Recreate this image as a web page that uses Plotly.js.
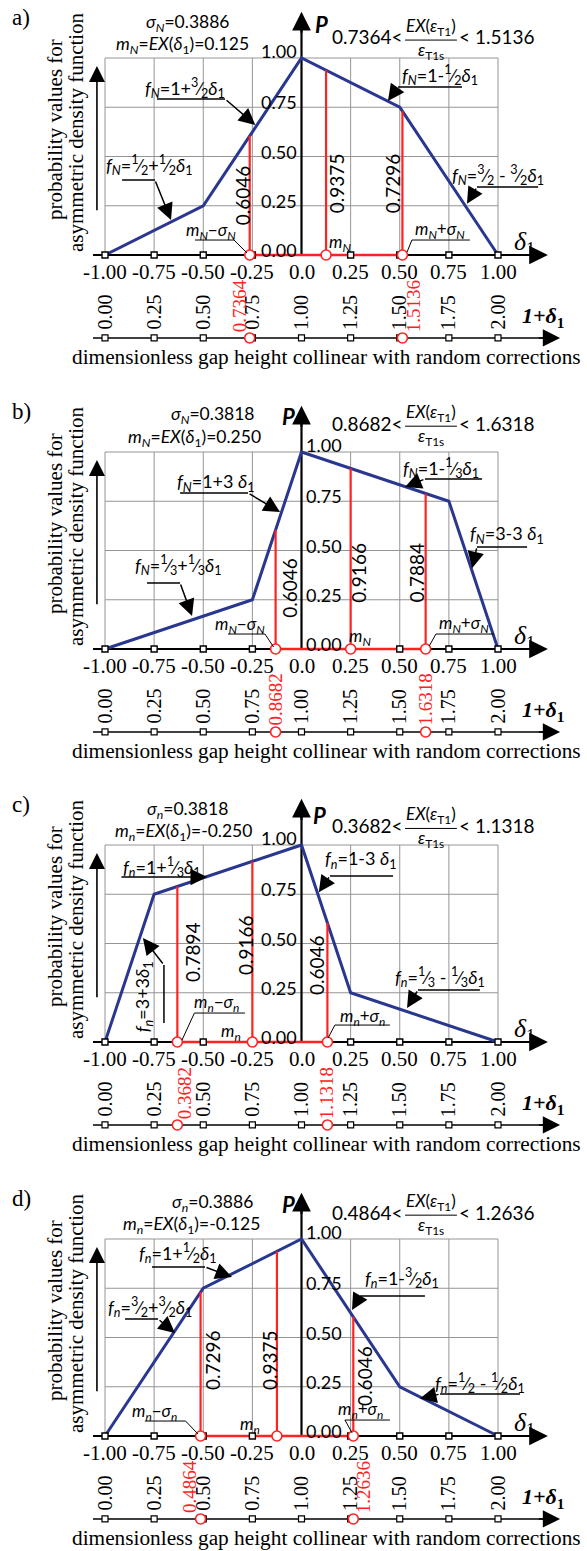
<!DOCTYPE html>
<html><head><meta charset="utf-8">
<script src="https://cdn.plot.ly/plotly-3.0.1.min.js"></script>
<style>html,body{margin:0;padding:0;background:#fff}#chart{width:587px;height:1551px}</style>
</head><body><div id="chart"></div>
<script>
// ---------------- DATA ----------------
const xTicks = [-1, -0.75, -0.5, -0.25, 0, 0.25, 0.5, 0.75, 1];
const xTickLabels = ['-1.00','-0.75','-0.50','-0.25','0.0','0.25','0.50','0.75','1.00'];
const secTickLabels = ['0.00','0.25','0.50','0.75','1.00','1.25','1.50','1.75','2.00'];
const yTicks = [0, 0.25, 0.5, 0.75, 1];
const yTickLabels = ['0.00','0.25','0.50','0.75','1.00'];
const panelNames = ['a)','b)','c)','d)'];

const densX_a = [-1, -0.5, 0, 0.5, 1];   const densP_a = [0, 0.25, 1, 0.75, 0];
const densX_b = [-1, -0.25, 0, 0.75, 1]; const densP_b = [0, 0.25, 1, 0.75, 0];
const densX_c = [-1, -0.75, 0, 0.25, 1]; const densP_c = [0, 0.75, 1, 0.25, 0];
const densX_d = [-1, -0.5, 0, 0.5, 1];   const densP_d = [0, 0.75, 1, 0.25, 0];

// positions m-sigma, m, m+sigma and density heights there
const redX_a = [-0.2636, 0.125, 0.5136];  const redP_a = [0.6046, 0.9375, 0.7296];
const redX_b = [-0.1318, 0.25, 0.6318];   const redP_b = [0.6046, 0.9166, 0.7884];
const redX_c = [-0.6318, -0.25, 0.1318];  const redP_c = [0.7894, 0.9166, 0.6046];
const redX_d = [-0.5136, -0.125, 0.2636]; const redP_d = [0.7296, 0.9375, 0.6046];

const sigmaLabels = ['0.3886','0.3818','0.3818','0.3886'];
const meanLabels = ['0.125','0.250','-0.250','-0.125'];
const boundLo = ['0.7364','0.8682','0.3682','0.4864'];
const boundHi = ['1.5136','1.6318','1.1318','1.2636'];
const subLetters = ['N','N','n','n'];

const d1 = '<i>δ</i><sub>1</sub>';
function fr(n, d) { return '<sup>' + n + '</sup>⁄<sub>' + d + '</sub>'; }
function fS(s) { return '<i>f<sub>' + s + '</sub></i>'; }
const formulas_a = [fS('N')+'=1+'+fr(3,2)+d1, fS('N')+'='+fr(1,2)+'+'+fr(1,2)+d1, fS('N')+'=1-'+fr(1,2)+d1, fS('N')+'='+fr(3,2)+' - '+fr(3,2)+d1];
const formulas_b = [fS('N')+'=1+3 '+d1, fS('N')+'='+fr(1,3)+'+'+fr(1,3)+d1, fS('N')+'=1-'+fr(1,3)+d1, fS('N')+'=3-3 '+d1];
const formulas_c = [fS('n')+'=1+'+fr(1,3)+d1, fS('n')+'=3+3'+d1, fS('n')+'=1-3 '+d1, fS('n')+'='+fr(1,3)+' - '+fr(1,3)+d1];
const formulas_d = [fS('n')+'=1+'+fr(1,2)+d1, fS('n')+'='+fr(3,2)+'+'+fr(3,2)+d1, fS('n')+'=1-'+fr(3,2)+d1, fS('n')+'='+fr(1,2)+' - '+fr(1,2)+d1];

const densX = [densX_a, densX_b, densX_c, densX_d];
const densP = [densP_a, densP_b, densP_c, densP_d];
const redX = [redX_a, redX_b, redX_c, redX_d];
const redP = [redP_a, redP_b, redP_c, redP_d];
const formulas = [formulas_a, formulas_b, formulas_c, formulas_d];

// ---------------- LAYOUT CONFIG (positions in data units) ----------------
const W = 587, H = 1551, S = 197;
const AX0 = [255, 649, 1042, 1436];
const XR = [(0 - 301.5) / 196.5, (W - 301.5) / 196.5];
const SEC = -0.421;
const SANS = 'Lato, "Liberation Sans", Arial, sans-serif';
const SERIF = '"Liberation Serif", "Times New Roman", serif';
const BLUE = '#29378f', RED = '#ff2222';

const cfg = [
  { side:'left', sigma:[-0.578,1.178], mean:[-0.608,1.066], P:[0.104,1.168], fracY:1.107,
    val:[[-0.296,0.305],[0.176,0.365],[0.461,0.365]],
    mLo:{t:[-0.461,0.122], ul:[-0.542,-0.3435,0.076], ld:[-0.3435,0.076,-0.277,0.010]},
    mMid:[0.196,0.061],
    mHi:{t:[0.705,0.127], ul:[0.562,0.857,0.076], ld:[0.562,0.076,0.537,0.015]},
    secShift:[-10,12],
    co:[ {t:[-0.593,0.848], ul:[-0.735,-0.389,0.792], ar:[-0.389,0.792,-0.235,0.66]},
         {t:[-0.776,0.457], ul:[-0.913,-0.746,0.381], ar:[-0.746,0.381,-0.664,0.178]},
         {t:[0.705,0.914], ul:[0.491,0.817,0.853], ar:[0.491,0.853,0.44,0.782]},
         {t:[1.0,0.406], ul:[0.893,1.204,0.345], ar:[0.893,0.345,0.842,0.26]} ] },
  { side:'right', sigma:[-0.455,1.188], mean:[-0.547,1.071], P:[-0.068,1.178], fracY:1.147,
    val:[[-0.059,0.31],[0.29,0.39],[0.585,0.39]],
    mLo:{t:[-0.313,0.122], ul:[-0.374,-0.186,0.076], ld:[-0.186,0.076,-0.142,0.01]},
    mMid:[0.30,0.061],
    mHi:{t:[0.828,0.127], ul:[0.684,0.98,0.076], ld:[0.684,0.076,0.650,0.015]},
    secShift:[0,0],
    co:[ {t:[-0.435,0.843], ul:[-0.618,-0.272,0.792], ar:[-0.272,0.792,-0.109,0.695]},
         {t:[-0.628,0.426], ul:[-0.786,-0.618,0.335], ar:[-0.618,0.335,-0.557,0.168]},
         {t:[0.710,0.919], ul:[0.628,0.919,0.863], ar:[0.628,0.863,0.527,0.822]},
         {t:[1.046,0.579], ul:[0.893,1.148,0.518], ar:[0.893,0.518,0.868,0.41]} ] },
  { side:'left', sigma:[-0.578,1.178], mean:[-0.603,1.066], P:[0.094,1.152], fracY:1.10,
    val:[[-0.552,0.457],[-0.288,0.492],[0.079,0.391]],
    mLo:{t:[-0.435,0.198], ul:[-0.545,-0.288,0.147], ld:[-0.545,0.147,-0.608,0.01]},
    mMid:[-0.359,0.051],
    mHi:{t:[0.308,0.127], ul:[0.170,0.450,0.086], ld:[0.170,0.086,0.135,0.02]},
    secShift:[8,0],
    co:[ {t:[-0.710,0.888], ul:null, ar:[-0.924,0.838,-0.481,0.838]},
         {t:[-0.806,0.228], rot:true, vl:[-0.700,0.096,0.391], ar:[-0.700,0.391,-0.807,0.528]},
         {t:[0.303,0.924], ul:[0.145,0.466,0.843], ar:[0.145,0.843,0.088,0.76]},
         {t:[0.705,0.330], ul:[0.593,0.908,0.264], ar:[0.593,0.264,0.537,0.173]} ] },
  { side:'right', sigma:[-0.455,1.183], mean:[-0.562,1.071], P:[-0.068,1.173], fracY:1.137,
    val:[[-0.450,0.386],[-0.160,0.386],[0.323,0.305]],
    mLo:{t:[-0.746,0.122], ul:[-0.797,-0.590,0.076], ld:[-0.590,0.076,-0.527,0.01]},
    mMid:[-0.262,0.056],
    mHi:{t:[0.298,0.132], ul:[0.221,0.450,0.081], ld:[0.221,0.081,0.258,0.015]},
    secShift:[-11,11],
    co:[ {t:[-0.629,0.929], ul:[-0.761,-0.491,0.858], ar:[-0.491,0.858,-0.354,0.807]},
         {t:[-0.771,0.655], ul:[-0.898,-0.730,0.594], ar:[-0.730,0.594,-0.644,0.523]},
         {t:[0.511,0.802], ul:[0.298,0.628,0.711], ar:[0.298,0.711,0.257,0.640]},
         {t:[0.908,0.269], ul:[0.705,1.112,0.213], ar:[0.705,0.213,0.603,0.19]} ] }
];

// ---------------- BUILD ----------------
const traces = [], shapes = [], annotations = [];
const layout = { width: W, height: H, margin: {l:0, r:0, t:0, b:0}, showlegend: false,
  paper_bgcolor: '#fff', plot_bgcolor: 'rgba(0,0,0,0)', shapes: shapes, annotations: annotations };

function txt(xa, ya, x, y, text, font, extra) {
  annotations.push(Object.assign({xref: xa, yref: ya, x: x, y: y, text: text, showarrow: false,
    font: font, xanchor: 'center', yanchor: 'middle'}, extra || {}));
}
function arrow(xa, ya, x0, y0, x1, y1, w, size) {
  annotations.push({xref: xa, yref: ya, axref: xa, ayref: ya, x: x1, y: y1, ax: x0, ay: y0, text: '',
    showarrow: true, arrowhead: 2, arrowsize: size, arrowwidth: w, arrowcolor: '#000', standoff: 0});
}
function seg(xa, ya, x0, y0, x1, y1, color, w, layer) {
  shapes.push({type: 'line', xref: xa, yref: ya, x0: x0, y0: y0, x1: x1, y1: y1,
    line: {color: color, width: w}, layer: layer || 'above'});
}

for (let k = 0; k < 4; k++) {
  const sfx = k === 0 ? '' : String(k + 1);
  const xa = 'x' + sfx, ya = 'y' + sfx;
  const top = AX0[k] - 255, bot = Math.min(AX0[k] + 138, H);
  layout['xaxis' + sfx] = {domain: [0, 1], range: XR, visible: false, anchor: ya, fixedrange: true};
  layout['yaxis' + sfx] = {domain: [1 - bot / H, 1 - top / H], range: [(AX0[k] - bot) / S, (AX0[k] - top) / S],
    visible: false, anchor: xa, fixedrange: true};
  const c = cfg[k], s = subLetters[k];

  // grid
  xTicks.forEach(v => seg(xa, ya, v, 0, v, 1, '#959595', 1, 'below'));
  yTicks.forEach(v => seg(xa, ya, -1, v, 1, v, '#959595', 1, 'below'));
  // axes lines
  seg(xa, ya, -1.061, 0, 1.2, 0, '#000', 2.2, 'below');
  seg(xa, ya, 0, 0, 0, 1.16, '#000', 2.2, 'below');
  seg(xa, ya, -1.061, SEC, 1.26, SEC, '#000', 1.5, 'below');
  arrow(xa, ya, 1.15, 0, 1.254, 0, 2.2, 1.7);
  arrow(xa, ya, 0, 1.12, 0, 1.235, 2.2, 1.7);
  arrow(xa, ya, 1.2, SEC, 1.316, SEC, 1.5, 2.3);
  arrow(xa, ya, -1.041, 0.22, -1.041, 0.96, 1.6, 2.0);

  // density polyline
  traces.push({type: 'scatter', mode: 'lines', x: densX[k], y: densP[k], xaxis: xa, yaxis: ya,
    line: {color: BLUE, width: 3}, hoverinfo: 'skip'});
  // red verticals
  const rx = [], ry = [];
  redX[k].forEach((v, i) => { rx.push(v, v, null); ry.push(0, redP[k][i], null); });
  traces.push({type: 'scatter', mode: 'lines', x: rx, y: ry, xaxis: xa, yaxis: ya,
    line: {color: RED, width: 2.2}, hoverinfo: 'skip'});
  traces.push({type: 'scatter', mode: 'lines', x: [redX[k][0], redX[k][2]], y: [0, 0], xaxis: xa, yaxis: ya,
    line: {color: RED, width: 2.6}, hoverinfo: 'skip'});
  // tick squares
  const mainT = xTicks.filter(v => v !== 0);
  traces.push({type: 'scatter', mode: 'markers', x: mainT, y: mainT.map(() => 0), xaxis: xa, yaxis: ya,
    marker: {symbol: 'square', size: 6, color: '#fff', line: {color: '#000', width: 1.4}}, hoverinfo: 'skip'});
  traces.push({type: 'scatter', mode: 'markers', x: xTicks, y: xTicks.map(() => SEC), xaxis: xa, yaxis: ya,
    marker: {symbol: 'square', size: 6, color: '#fff', line: {color: '#000', width: 1.2}}, hoverinfo: 'skip'});
  // red circles
  traces.push({type: 'scatter', mode: 'markers', x: redX[k], y: redX[k].map(() => 0), xaxis: xa, yaxis: ya,
    marker: {symbol: 'circle', size: 10, color: '#fff', line: {color: RED, width: 1.6}}, hoverinfo: 'skip'});
  traces.push({type: 'scatter', mode: 'markers', x: [redX[k][0], redX[k][2]], y: [SEC, SEC], xaxis: xa, yaxis: ya,
    marker: {symbol: 'circle', size: 10, color: '#fff', line: {color: RED, width: 1.6}}, hoverinfo: 'skip'});

  // texts
  txt(xa, ya, -1.427, 1.205, panelNames[k], {family: SERIF, size: 23, color: '#000'});
  txt(xa, ya, -1.254, 0.635, 'probability values for', {family: SERIF, size: 21, color: '#000'}, {textangle: -90});
  txt(xa, ya, -1.148, 0.624, 'asymmetric density function', {family: SERIF, size: 21, color: '#000'}, {textangle: -90});
  txt(xa, ya, c.sigma[0], c.sigma[1], '<i>σ<sub>' + s + '</sub></i>=' + sigmaLabels[k], {family: SANS, size: 17.5, color: '#000'});
  txt(xa, ya, c.mean[0], c.mean[1], '<i>m<sub>' + s + '</sub></i>=<i>EX</i>(' + d1 + ')=' + meanLabels[k], {family: SANS, size: 17.5, color: '#000'});
  txt(xa, ya, c.P[0], c.P[1], '<b><i>P</i></b>', {family: SANS, size: 22, color: '#000'});
  // fraction
  const fy = c.fracY;
  txt(xa, ya, 0.527, fy, boundLo[k] + '<', {family: SANS, size: 19, color: '#000'}, {xanchor: 'right'});
  txt(xa, ya, 0.659, fy + 0.05, '<i>EX</i>(<i>ε</i><sub>T1</sub>)', {family: SANS, size: 17, color: '#000'});
  seg(xa, ya, 0.527, fy - 0.016, 0.791, fy - 0.016, '#000', 1);
  txt(xa, ya, 0.659, fy - 0.07, '<i>ε</i><sub>T1s</sub>', {family: SANS, size: 17, color: '#000'});
  txt(xa, ya, 0.791, fy, '< ' + boundHi[k], {family: SANS, size: 19, color: '#000'}, {xanchor: 'left'});
  // y tick labels
  yTicks.forEach((v, i) => {
    const yy = v === 1 ? 1.035 : v + 0.025;
    if (c.side === 'left') txt(xa, ya, -0.012, yy, yTickLabels[i], {family: SANS, size: 18, color: '#000'}, {xanchor: 'right'});
    else txt(xa, ya, 0.012, yy, yTickLabels[i], {family: SANS, size: 18, color: '#000'}, {xanchor: 'left'});
  });
  // x tick labels and secondary labels
  xTicks.forEach((v, i) => {
    txt(xa, ya, v, -0.086, xTickLabels[i], {family: SERIF, size: 21, color: '#000'});
    txt(xa, ya, v, SEC, secTickLabels[i], {family: SERIF, size: 20, color: '#000'}, {textangle: -90, yanchor: 'bottom', yshift: 6});
  });
  txt(xa, ya, redX[k][0], SEC, boundLo[k], {family: SERIF, size: 19, color: RED}, {textangle: -90, yanchor: 'bottom', yshift: 4, xshift: c.secShift[0]});
  txt(xa, ya, redX[k][2], SEC, boundHi[k], {family: SERIF, size: 19, color: RED}, {textangle: -90, yanchor: 'bottom', yshift: 4, xshift: c.secShift[1]});
  txt(xa, ya, 1.137, 0.061, '<i>δ</i><sub>1</sub>', {family: SERIF, size: 26, color: '#000'});
  txt(xa, ya, 1.229, -0.315, '<b><i>1+δ</i><sub>1</sub></b>', {family: SERIF, size: 22, color: '#000'});
  txt(xa, ya, 0.125, -0.52, 'dimensionless gap height collinear with random corrections', {family: SERIF, size: 21.3, color: '#000'});
  // value labels
  c.val.forEach((p, i) => txt(xa, ya, p[0], p[1], redP[k][i].toFixed(4), {family: SANS, size: 19, color: '#000'}, {textangle: -90}));
  // m labels
  const mFont = {family: SANS, size: 17, color: '#000'};
  txt(xa, ya, c.mLo.t[0], c.mLo.t[1], '<i>m<sub>' + s + '</sub></i>−<i>σ<sub>' + s + '</sub></i>', mFont);
  seg(xa, ya, c.mLo.ul[0], c.mLo.ul[2], c.mLo.ul[1], c.mLo.ul[2], '#000', 1);
  seg(xa, ya, c.mLo.ld[0], c.mLo.ld[1], c.mLo.ld[2], c.mLo.ld[3], '#000', 1);
  txt(xa, ya, c.mMid[0], c.mMid[1], '<i>m<sub>' + s + '</sub></i>', mFont);
  txt(xa, ya, c.mHi.t[0], c.mHi.t[1], '<i>m<sub>' + s + '</sub></i>+<i>σ<sub>' + s + '</sub></i>', mFont);
  seg(xa, ya, c.mHi.ul[0], c.mHi.ul[2], c.mHi.ul[1], c.mHi.ul[2], '#000', 1);
  seg(xa, ya, c.mHi.ld[0], c.mHi.ld[1], c.mHi.ld[2], c.mHi.ld[3], '#000', 1);
  // callouts
  c.co.forEach((o, i) => {
    txt(xa, ya, o.t[0], o.t[1], formulas[k][i], {family: SANS, size: 18, color: '#000'}, o.rot ? {textangle: -90} : {});
    if (o.ul) seg(xa, ya, o.ul[0], o.ul[2], o.ul[1], o.ul[2], '#000', 1.5);
    if (o.vl) seg(xa, ya, o.vl[0], o.vl[1], o.vl[0], o.vl[2], '#000', 1.5);
    arrow(xa, ya, o.ar[0], o.ar[1], o.ar[2], o.ar[3], 1.5, 2.2);
  });
}

Plotly.newPlot('chart', traces, layout, {staticPlot: true, displayModeBar: false});
</script>
</body></html>
